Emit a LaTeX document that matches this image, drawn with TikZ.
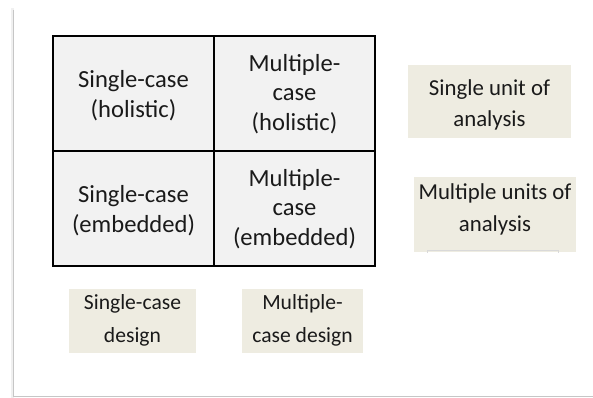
\documentclass[tikz,border=0pt]{standalone}
\usepackage{fontspec}
\setmainfont{Carlito}
\definecolor{tan}{HTML}{EEECE1}
\definecolor{cellgray}{HTML}{F2F2F2}
\definecolor{txt}{HTML}{1A1A1A}
\tikzset{
  cell/.style={draw=black, line width=1.3pt, fill=cellgray},
  celltext/.style={align=center, text=txt, font=\fontsize{24.6}{29.5}\selectfont},
  tanbox/.style={fill=tan, draw=none},
  sidetext/.style={align=center, text=txt, font=\fontsize{22.8}{30.5}\selectfont},
  sidetextb/.style={align=center, text=txt, font=\fontsize{22.8}{32}\selectfont},
  bottext/.style={align=center, text=txt, font=\fontsize{21.6}{33}\selectfont},
}
\begin{document}
\begin{tikzpicture}[x=1pt,y=-1pt]
\useasboundingbox (0,0) rectangle (593,398);
\fill[white] (0,0) rectangle (593,398);
% page shadow
\fill[gray!12] (11,8) rectangle (14,398);
\draw[gray!45, line width=0.8pt] (13.5,10) -- (13.5,396.5) -- (593,396.5);
% grid
\draw[cell] (53,36) rectangle (214,151);
\draw[cell] (214,36) rectangle (375,151);
\draw[cell] (53,151) rectangle (214,266);
\draw[cell] (214,151) rectangle (375,266);
\node[celltext] (sh) at (133.5,95.5) {Single-case\\(holistic)};
\node[celltext] (mh) at (294.5,94) {Multiple-\\case\\(holistic)};
\node[celltext] (se) at (133.5,210.5) {Single-case\\(embedded)};
\node[celltext] (me) at (294.5,209) {Multiple-\\case\\(embedded)};
% side boxes
\fill[tanbox] (408,65) rectangle (571,138);
\node[sidetext] (su) at (489.5,105) {Single unit of\\analysis};
\fill[tanbox] (414,177) rectangle (576,252);
\draw[gray!30, line width=0.6pt] (427,253) -- (427,250) -- (558,250) -- (558,253);
\node[sidetextb] (mu) at (495,209.5) {Multiple units of\\analysis};
% bottom boxes
\fill[tanbox] (69,289) rectangle (196,353);
\node[bottext] (sd) at (132.5,320.5) {Single-case\\design};
\fill[tanbox] (242,289) rectangle (363,353);
\node[bottext] (md) at (302.5,320.5) {Multiple-\\case design};
\end{tikzpicture}
\end{document}
